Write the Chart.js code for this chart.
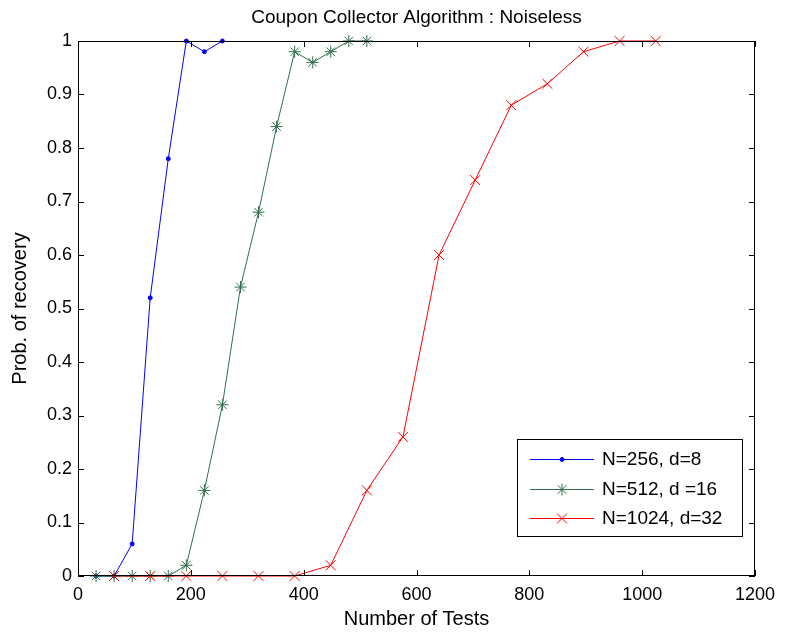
<!DOCTYPE html>
<html>
<head>
<meta charset="utf-8">
<script src="https://cdn.jsdelivr.net/npm/chart.js@4"></script>
<style>
  html, body { margin: 0; padding: 0; background: #fff; }
  #wrap { width: 787px; height: 632px; }
</style>
</head>
<body>
<div id="wrap"><canvas id="c" width="787" height="632"></canvas></div>
<script>
// data
const testsN256  = [32, 64, 96, 128, 160, 192, 224, 256];
const probN256   = [0, 0, 0.06, 0.52, 0.78, 1.0, 0.98, 1.0];

const testsN512  = [32, 64, 96, 128, 160, 192, 224, 256, 288, 320, 352, 384, 416, 448, 480, 512];
const probN512   = [0, 0, 0, 0, 0, 0.02, 0.16, 0.32, 0.54, 0.68, 0.84, 0.98, 0.96, 0.98, 1.0, 1.0];

const testsN1024 = [64, 128, 192, 256, 320, 384, 448, 512, 576, 640, 704, 768, 832, 896, 960, 1024];
const probN1024  = [0, 0, 0, 0, 0, 0, 0.02, 0.16, 0.26, 0.6, 0.74, 0.88, 0.92, 0.98, 1.0, 1.0];

const seriesLabels = ['N=256, d=8', 'N=512, d =16', 'N=1024, d=32'];
const chartTitle = 'Coupon Collector Algorithm : Noiseless';

const FONT = '"Liberation Sans", Arial, Helvetica, sans-serif';

const toPts = (xs, ys) => xs.map((x, i) => ({ x, y: ys[i] }));

/* --- box, inward ticks, title, legend --- */
const matlabAxes = {
  id: 'matlabAxes',
  afterDatasetsDraw(chart) {
    const { ctx, chartArea: a, scales } = chart;
    const sx = scales.x, sy = scales.y;
    ctx.save();
    ctx.strokeStyle = '#000';
    ctx.lineWidth = 1;
    ctx.strokeRect(a.left + 0.5, a.top + 0.5, a.right - a.left - 1, a.bottom - a.top - 1);
    const tl = 6;
    ctx.beginPath();
    sx.ticks.forEach(t => {
      const px = Math.round(sx.getPixelForValue(t.value)) + 0.5;
      ctx.moveTo(px, a.bottom); ctx.lineTo(px, a.bottom - tl);
      ctx.moveTo(px, a.top);    ctx.lineTo(px, a.top + tl);
    });
    sy.ticks.forEach(t => {
      const py = Math.round(sy.getPixelForValue(t.value)) + 0.5;
      ctx.moveTo(a.left, py);  ctx.lineTo(a.left + tl, py);
      ctx.moveTo(a.right, py); ctx.lineTo(a.right - tl, py);
    });
    ctx.stroke();

    // title
    ctx.fillStyle = '#000';
    ctx.font = '19px ' + FONT;
    ctx.textAlign = 'center';
    ctx.textBaseline = 'middle';
    ctx.fillText(chartTitle, (a.left + a.right) / 2, 18);

    // legend
    const bx = 517, by = 439, bw = 225, bh = 97;
    ctx.fillStyle = '#fff';
    ctx.fillRect(bx, by, bw, bh);
    ctx.strokeRect(bx + 0.5, by + 0.5, bw, bh);
    ctx.font = '19px ' + FONT;
    ctx.textAlign = 'left';
    chart.data.datasets.forEach((ds, i) => {
      const y = by + 20 + i * 29.5;
      ctx.strokeStyle = ds.borderColor;
      ctx.beginPath();
      ctx.moveTo(bx + 13, Math.round(y) + 0.5); ctx.lineTo(bx + 77, Math.round(y) + 0.5);
      ctx.stroke();
      ctx.fillStyle = ds.pointBackgroundColor;
      Chart.helpers.drawPoint(ctx, {
        pointStyle: ds.pointStyle, radius: ds.pointRadius, borderWidth: 1
      }, bx + 45, Math.round(y) + 0.5);
      ctx.fillStyle = '#000';
      ctx.fillText(ds.label, bx + 85, y + 1);
    });
    ctx.restore();
  }
};

const mk = (label, data, color, style, r, order) => ({
  label, data, order,
  borderColor: color, backgroundColor: color,
  pointBorderColor: color, pointBackgroundColor: color,
  borderWidth: 1, pointStyle: style, pointRadius: r, pointBorderWidth: 1,
  pointHoverRadius: r, tension: 0, clip: false
});

new Chart(document.getElementById('c'), {
  type: 'line',
  data: {
    datasets: [
      mk(seriesLabels[0], toPts(testsN256, probN256), '#0000ff', 'circle', 2, 2),
      mk(seriesLabels[1], toPts(testsN512, probN512), '#2f6e4f', 'star', 6, 1),
      mk(seriesLabels[2], toPts(testsN1024, probN1024), '#ff0000', 'crossRot', 7, 0)
    ]
  },
  options: {
    responsive: false,
    animation: false,
    devicePixelRatio: 1,
    layout: { padding: { top: 41, right: 32, left: 0, bottom: 0 } },
    plugins: { legend: { display: false }, title: { display: false }, tooltip: { enabled: false } },
    scales: {
      x: {
        type: 'linear', min: 0, max: 1200,
        ticks: { stepSize: 200, color: '#000', font: { family: FONT, size: 18 }, padding: 8, maxRotation: 0,
                 callback: v => String(v) },
        grid: { display: false, drawTicks: false },
        border: { display: false },
        title: { display: true, text: 'Number of Tests', color: '#000', font: { family: FONT, size: 20 }, padding: { top: 0, bottom: 1 } },
        afterFit: s => { s.height = 56; }
      },
      y: {
        min: 0, max: 1,
        ticks: { stepSize: 0.1, color: '#000', font: { family: FONT, size: 18 }, padding: 6,
                 callback: v => String(+v.toFixed(1)) },
        grid: { display: false, drawTicks: false },
        border: { display: false },
        title: { display: true, text: 'Prob. of recovery', color: '#000', font: { family: FONT, size: 20 }, padding: { top: 8, bottom: 0 } },
        afterFit: s => { s.width = 78; }
      }
    }
  },
  plugins: [matlabAxes]
});
</script>
</body>
</html>
